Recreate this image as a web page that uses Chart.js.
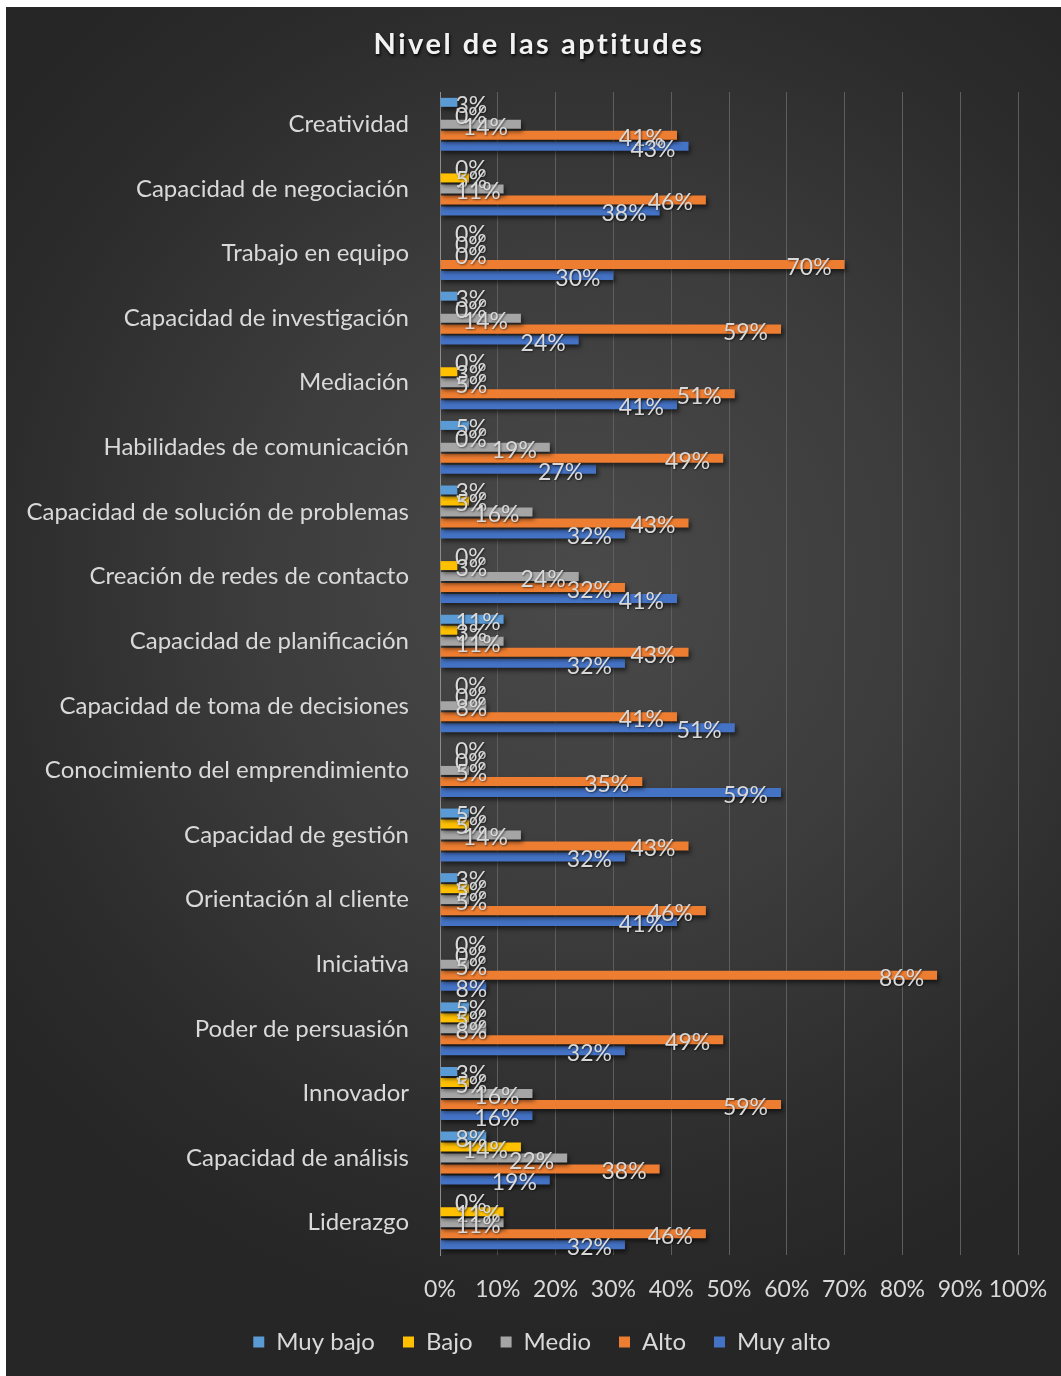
<!DOCTYPE html>
<html lang="es">
<head>
<meta charset="utf-8">
<title>Nivel de las aptitudes</title>
<script src="https://cdn.jsdelivr.net/npm/chart.js@4.4.1/dist/chart.umd.min.js"></script>
<style>
  html, body { margin: 0; padding: 0; background: #fff; }
  #marco {
    position: absolute; left: 6px; top: 7px; width: 1055px; height: 1369px;
    background: radial-gradient(ellipse 70% 55% at 55% 42%, #4a4a4a 0%, #3c3c3c 45%, #2c2c2c 80%, #262626 100%);
  }
  canvas { display: block; }
</style>
</head>
<body>
<div id="marco"><canvas id="graficoAptitudes" width="1055" height="1369"></canvas></div>
<script>
const titulo = "Nivel de las aptitudes";

const aptitudes = [
  "Creatividad",
  "Capacidad de negociación",
  "Trabajo en equipo",
  "Capacidad de investigación",
  "Mediación",
  "Habilidades de comunicación",
  "Capacidad de solución de problemas",
  "Creación de redes de contacto",
  "Capacidad de planificación",
  "Capacidad de toma de decisiones",
  "Conocimiento del emprendimiento",
  "Capacidad de gestión",
  "Orientación al cliente",
  "Iniciativa",
  "Poder de persuasión",
  "Innovador",
  "Capacidad de análisis",
  "Liderazgo"
];

const niveles = ["Muy bajo", "Bajo", "Medio", "Alto", "Muy alto"];
const colores = ["#5b9bd5", "#ffc000", "#a5a5a5", "#ed7d31", "#4472c4"];

// porcentajes por aptitud, en el mismo orden que la lista de arriba
const muyBajo = [3, 0, 0, 3, 0, 5, 3, 0, 11, 0, 0, 5, 3, 0, 5, 3, 8, 0];
const bajo    = [0, 5, 0, 0, 3, 0, 5, 3, 3, 0, 0, 5, 5, 0, 5, 5, 14, 11];
const medio   = [14, 11, 0, 14, 5, 19, 16, 24, 11, 8, 5, 14, 5, 5, 8, 16, 22, 11];
const alto    = [41, 46, 70, 59, 51, 49, 43, 32, 43, 41, 35, 43, 46, 86, 49, 59, 38, 46];
const muyAlto = [43, 38, 30, 24, 41, 27, 32, 41, 32, 51, 59, 32, 41, 8, 32, 16, 19, 32];

const series = [muyBajo, bajo, medio, alto, muyAlto];

const textoClaro = "#d9d9d9";
Chart.defaults.font.family = "Lato, 'Noto Sans', sans-serif";
Chart.defaults.color = textoClaro;

// sombra suave bajo las barras
const sombraBarras = {
  id: "sombraBarras",
  beforeDatasetsDraw(chart) {
    const ctx = chart.ctx;
    ctx.save();
    ctx.shadowColor = "rgba(0,0,0,0.55)";
    ctx.shadowBlur = 4;
    ctx.shadowOffsetX = 2;
    ctx.shadowOffsetY = 3;
  },
  afterDatasetsDraw(chart) {
    chart.ctx.restore();
  }
};

// etiqueta de valor al final de cada barra (dentro, o junto al eje si no cabe)
const etiquetasBarras = {
  id: "etiquetasBarras",
  afterDatasetsDraw(chart) {
    const ctx = chart.ctx;
    ctx.save();
    ctx.font = "23px Lato";
    ctx.fillStyle = textoClaro;
    ctx.textBaseline = "middle";
    ctx.shadowColor = "rgba(0,0,0,0.5)";
    ctx.shadowBlur = 2;
    ctx.shadowOffsetX = 1;
    ctx.shadowOffsetY = 1;
    chart.data.datasets.forEach((ds, i) => {
      chart.getDatasetMeta(i).data.forEach((barra, j) => {
        const texto = ds.data[j] + "%";
        const ancho = ctx.measureText(texto).width;
        const x = Math.max(barra.x - ancho - 13, barra.base + 15);
        ctx.fillText(texto, x, barra.y + 3);
      });
    });
    ctx.restore();
  }
};

// la leyenda va centrada en todo el marco, no solo hasta el borde derecho del área
const centrarLeyenda = {
  id: "centrarLeyenda",
  afterLayout(chart) {
    const desplazamiento = 30;
    chart.legend.left += desplazamiento;
    chart.legend.right += desplazamiento;
  }
};

const tituloGrafico = {
  id: "tituloGrafico",
  afterDraw(chart) {
    const ctx = chart.ctx;
    ctx.save();
    ctx.font = "bold 29px Lato";
    ctx.letterSpacing = "2.5px";
    ctx.fillStyle = "#f2f2f2";
    ctx.textAlign = "center";
    ctx.textBaseline = "middle";
    ctx.shadowColor = "rgba(0,0,0,0.85)";
    ctx.shadowBlur = 3;
    ctx.shadowOffsetX = 1;
    ctx.shadowOffsetY = 2;
    ctx.fillText(titulo, 533, 38);
    ctx.restore();
  }
};

new Chart(document.getElementById("graficoAptitudes"), {
  type: "bar",
  data: {
    labels: aptitudes,
    datasets: niveles.map((nivel, i) => ({
      label: nivel,
      data: series[i],
      backgroundColor: colores[i],
      borderWidth: 0,
      categoryPercentage: 0.85,
      barPercentage: 0.82
    }))
  },
  options: {
    indexAxis: "y",
    responsive: false,
    animation: false,
    layout: { padding: { top: 85, left: 0, right: 43, bottom: 12 } },
    scales: {
      x: {
        min: 0,
        max: 100,
        ticks: {
          stepSize: 10,
          padding: 7,
          maxRotation: 0,
          minRotation: 0,
          autoSkip: false,
          font: { size: 23 },
          color: textoClaro,
          callback: (v) => v + "%"
        },
        grid: { color: "#5e5e5e", lineWidth: 1, drawTicks: true, tickLength: 14, tickColor: "rgba(0,0,0,0)" },
        border: { display: false },
        afterFit(escala) { escala.height = 47; }
      },
      y: {
        ticks: { padding: 31, font: { size: 24 }, color: textoClaro },
        grid: { display: false, drawTicks: false },
        border: { display: true, color: "#8c8c8c", width: 1 },
        afterFit(escala) { escala.width = 434; }
      }
    },
    plugins: {
      title: { display: false },
      tooltip: { enabled: false },
      legend: {
        position: "bottom",
        labels: {
          boxWidth: 11,
          boxHeight: 11,
          padding: 28,
          color: textoClaro,
          font: { size: 24 }
        }
      }
    }
  },
  plugins: [sombraBarras, etiquetasBarras, centrarLeyenda, tituloGrafico]
});
</script>
</body>
</html>
